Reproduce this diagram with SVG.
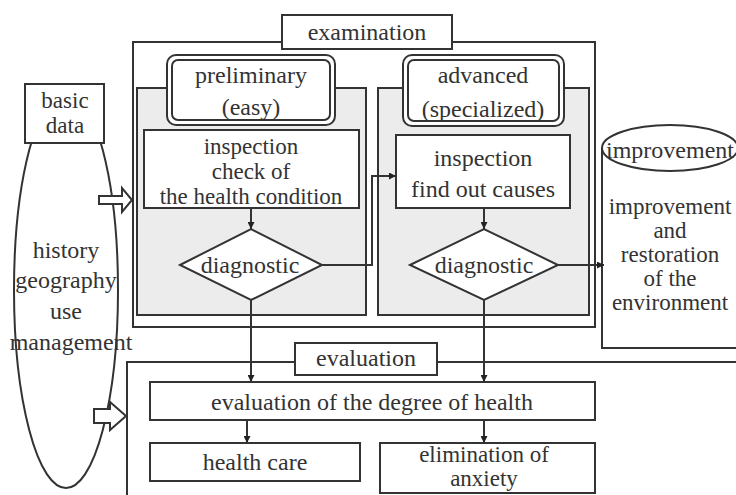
<svg xmlns="http://www.w3.org/2000/svg" width="736" height="495" viewBox="0 0 736 495">
<defs>
<style>
.ln{fill:none;stroke:#333;stroke-width:2}
.bx{fill:#fff;stroke:#333;stroke-width:2}
.pn{fill:#ececec;stroke:#333;stroke-width:2}
.t{font-family:'Liberation Serif','DejaVu Serif',serif;font-size:24px;fill:#333;text-anchor:middle}
.s{font-size:23px}
</style>
<marker id="ah" viewBox="0 0 10 10" refX="10" refY="5" markerWidth="7" markerHeight="7" markerUnits="userSpaceOnUse" orient="auto"><path d="M0,0L10,5L0,10z" fill="#222"/></marker>
</defs>
<rect width="736" height="495" fill="#fff"/>

<g id="left-data">
<ellipse class="bx" cx="66" cy="290" rx="52" ry="198"/>
<rect class="bx" x="25" y="84" width="79" height="59"/>
<text class="t s" x="65" y="108">basic</text>
<text class="t s" x="65" y="133">data</text>
<text class="t" x="66" y="258">history</text>
<text class="t" x="66" y="288">geography</text>
<text class="t" x="66" y="319">use</text>
<text class="t" x="71" y="350">management</text>
</g>

<g id="block-arrow-1"><path class="bx" d="M99,196H122V188L132,200L122,212V204H99Z"/></g>
<g id="block-arrow-2"><path class="bx" d="M94,409H110V402L126,416L110,430V423H94Z"/></g>

<g id="examination">
<rect class="ln" x="133" y="42" width="462" height="285"/>
<rect class="bx" x="282" y="15" width="170" height="34"/>
<text class="t" x="367" y="40">examination</text>
</g>

<g id="preliminary">
<rect class="pn" x="137" y="88" width="229" height="227"/>
<rect class="bx" x="167" y="55" width="168" height="70" rx="9"/>
<rect class="ln" x="172" y="60" width="158" height="60" rx="6"/>
<text class="t" x="251" y="83">preliminary</text>
<text class="t" x="251" y="115">(easy)</text>
</g>

<g id="inspection-1">
<rect class="bx" x="144" y="130" width="215" height="78"/>
<text class="t s" x="251" y="154">inspection</text>
<text class="t s" x="251" y="179">check of</text>
<text class="t s" x="251" y="204">the health condition</text>
</g>

<g id="diagnostic-1">
<path class="bx" d="M180,265L251,229L322,265L251,300Z"/>
<text class="t" x="250" y="273">diagnostic</text>
</g>

<g id="advanced">
<rect class="pn" x="378" y="88" width="211" height="227"/>
<rect class="bx" x="403" y="55" width="161" height="71" rx="9"/>
<rect class="ln" x="408" y="60" width="151" height="61" rx="6"/>
<text class="t" x="483" y="83">advanced</text>
<text class="t" x="483" y="117">(specialized)</text>
</g>

<g id="inspection-2">
<rect class="bx" x="396" y="135" width="174" height="73"/>
<text class="t" x="483" y="166">inspection</text>
<text class="t" x="483" y="197">find out causes</text>
</g>

<g id="diagnostic-2">
<path class="bx" d="M410,265L484,229L558,265L484,300Z"/>
<text class="t" x="484" y="273">diagnostic</text>
</g>

<g id="improvement">
<path class="bx" d="M602,148V348H740V148"/>
<ellipse class="bx" cx="670" cy="148" rx="68" ry="23"/>
<text class="t" x="670" y="158">improvement</text>
<text class="t s" x="670" y="214">improvement</text>
<text class="t s" x="670" y="238">and</text>
<text class="t s" x="670" y="262">restoration</text>
<text class="t s" x="670" y="286">of the</text>
<text class="t s" x="670" y="310">environment</text>
</g>

<g id="evaluation">
<path class="ln" d="M127,497V362H295M437,362H740"/>
<rect class="bx" x="295" y="343" width="142" height="32"/>
<text class="t" x="366" y="366">evaluation</text>
</g>

<g id="evaluation-degree">
<rect class="bx" x="150" y="382" width="445" height="38"/>
<text class="t" x="372" y="410">evaluation of the degree of health</text>
</g>

<g id="health-care">
<rect class="bx" x="150" y="443" width="210" height="38"/>
<text class="t" x="255" y="470">health care</text>
</g>

<g id="elimination">
<rect class="bx" x="380" y="443" width="215" height="50"/>
<text class="t s" x="484" y="462">elimination of</text>
<text class="t s" x="484" y="486">anxiety</text>
</g>

<g id="connectors">
<path class="ln" d="M251,208V229" marker-end="url(#ah)"/>
<path class="ln" d="M484,208V229" marker-end="url(#ah)"/>
<path class="ln" d="M322,265H372V176H396" marker-end="url(#ah)"/>
<path class="ln" d="M558,265H604" marker-end="url(#ah)"/>
<path class="ln" d="M251,300V382" marker-end="url(#ah)"/>
<path class="ln" d="M484,300V382" marker-end="url(#ah)"/>
<path class="ln" d="M247,420V443" marker-end="url(#ah)"/>
<path class="ln" d="M484,420V443" marker-end="url(#ah)"/>
</g>
</svg>
